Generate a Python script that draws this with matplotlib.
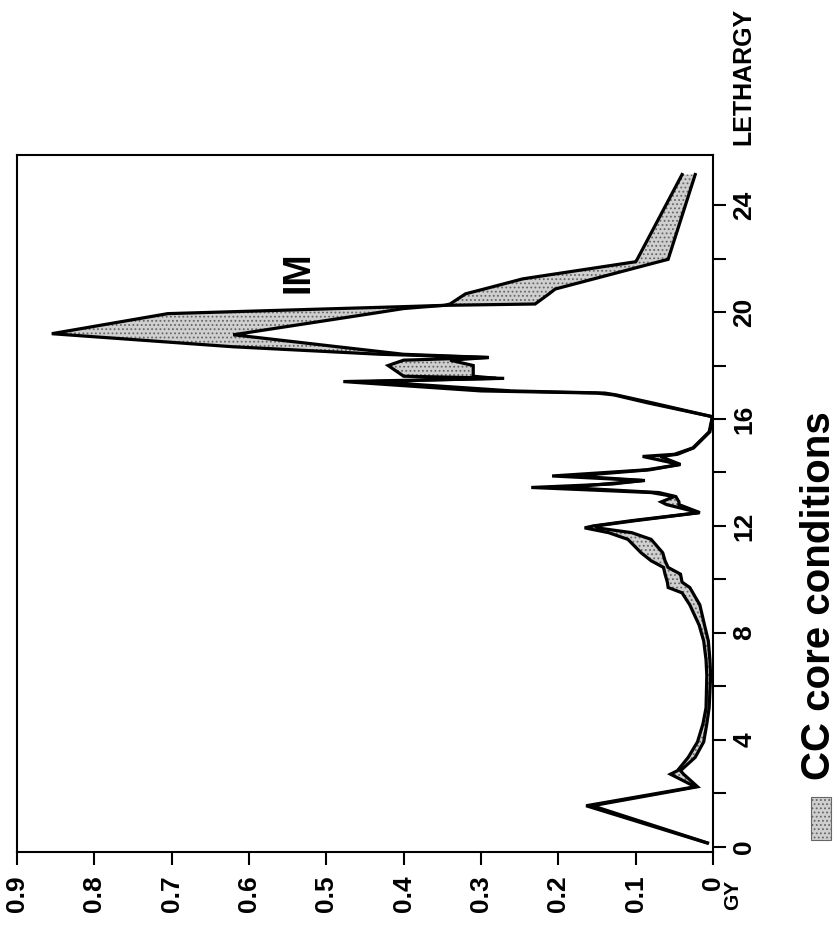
import matplotlib
matplotlib.use('Agg')
import matplotlib.pyplot as plt
from matplotlib.patches import Rectangle

plt.rcParams['font.family'] = ['Liberation Sans', 'DejaVu Sans']
plt.rcParams['font.weight'] = 'bold'
plt.rcParams['hatch.color'] = '#666666'
plt.rcParams['hatch.linewidth'] = 0.8

# lethargy grid and the two flux curves
lethargy = [0.15, 1.54, 2.25, 2.72, 2.85, 3.35, 3.93, 4.6, 5.2, 6.4, 7.0, 7.7, 8.3,
            9.05, 9.5, 9.7, 9.9, 10.2, 10.45, 10.7, 11.0, 11.5, 11.75, 11.93, 12.0,
            12.2, 12.5, 12.8, 12.9, 13.1, 13.25, 13.44, 13.57, 13.7, 13.87, 14.1,
            14.3, 14.6, 14.68, 14.92, 15.52, 16.05, 16.1, 16.6, 16.9, 16.97, 17.05,
            17.4, 17.52, 17.6, 18.0, 18.2, 18.3, 18.42, 18.7, 19.15, 19.19, 19.94,
            20.13, 20.2, 20.25, 20.3, 20.68, 20.86, 21.24, 21.88, 21.97, 25.14]
flux_a = [0.008, 0.164, 0.023, 0.055, 0.046, 0.032, 0.020, 0.013, 0.009, 0.008, 0.009,
          0.012, 0.018, 0.030, 0.040, 0.058, 0.059, 0.062, 0.064, 0.080, 0.093, 0.110,
          0.135, 0.166, 0.155, 0.105, 0.018, 0.060, 0.067, 0.050, 0.080, 0.235, 0.130,
          0.091, 0.208, 0.086, 0.043, 0.091, 0.050, 0.026, 0.005, 0.001, 0.003, 0.084,
          0.128, 0.150, 0.300, 0.478, 0.270, 0.400, 0.420, 0.400, 0.290, 0.430, 0.620,
          0.836, 0.855, 0.705, 0.484, 0.402, 0.347, 0.340, 0.320, 0.296, 0.246, 0.100,
          0.098, 0.040]
flux_b = [0.007, 0.156, 0.020, 0.038, 0.042, 0.023, 0.012, 0.008, 0.005, 0.003, 0.004,
          0.006, 0.011, 0.017, 0.026, 0.030, 0.040, 0.042, 0.058, 0.062, 0.065, 0.080,
          0.105, 0.150, 0.152, 0.100, 0.017, 0.044, 0.044, 0.048, 0.070, 0.190, 0.140,
          0.088, 0.180, 0.082, 0.042, 0.068, 0.046, 0.025, 0.004, 0.001, 0.003, 0.078,
          0.125, 0.140, 0.260, 0.440, 0.280, 0.310, 0.310, 0.340, 0.290, 0.400, 0.485,
          0.620, 0.611, 0.442, 0.400, 0.370, 0.347, 0.230, 0.212, 0.204, 0.154, 0.070,
          0.058, 0.023]

value_ticks = [0, 0.1, 0.2, 0.3, 0.4, 0.5, 0.6, 0.7, 0.8, 0.9]
value_labels = ['0', '0.1', '0.2', '0.3', '0.4', '0.5', '0.6', '0.7', '0.8', '0.9']
leth_ticks = [0, 4, 8, 12, 16, 20, 24]
leth_labels = ['0', '4', '8', '12', '16', '20', '24']
leth_minor = [2, 6, 10, 14, 18, 22]

fig = plt.figure(figsize=(8.4, 9.25), dpi=100)
ax = fig.add_axes([0.0202, 0.0789, 0.8286, 0.7535])

# the chart is printed sideways: value runs right-to-left, lethargy upward
ax.fill_betweenx(lethargy, flux_a, flux_b, facecolor='#cfcfcf', hatch='....',
                 edgecolor='#666666', linewidth=0)
ax.plot(flux_a, lethargy, color='black', lw=2.3, solid_joinstyle='miter')
ax.plot(flux_b, lethargy, color='black', lw=2.3, solid_joinstyle='miter')

ax.set_xlim(0.9, 0)
ax.set_ylim(-0.19, 25.87)

ax.yaxis.tick_right()
ax.set_xticks(value_ticks)
ax.set_xticklabels(value_labels, rotation=90, fontsize=19, fontweight='bold')
ax.set_yticks(leth_ticks)
ax.set_yticks(leth_minor, minor=True)
ax.set_yticklabels(leth_labels, rotation=90, va='center', fontsize=19, fontweight='bold')
ax.tick_params(axis='x', direction='out', length=9, width=1.5, pad=8)
ax.tick_params(axis='y', which='both', direction='out', length=9, width=1.5, pad=5)
for s in ax.spines.values():
    s.set_linewidth(1.5)

fig.text(0.367, 0.6832, 'IM', rotation=90, rotation_mode='anchor',
         ha='left', va='baseline', fontsize=27, fontweight='bold')
fig.text(0.8929, 0.8432, 'LETHARGY', rotation=90, rotation_mode='anchor',
         ha='left', va='baseline', fontsize=18, fontweight='bold')
fig.text(0.8786, 0.0162, 'GY', rotation=90, rotation_mode='anchor',
         ha='left', va='baseline', fontsize=15, fontweight='bold')
fig.text(0.9875, 0.1568, 'CC core conditions', rotation=90, rotation_mode='anchor',
         ha='left', va='baseline', fontsize=29, fontweight='bold')
fig.patches.append(Rectangle((0.9655, 0.0919), 0.0238, 0.0465, transform=fig.transFigure,
                             facecolor='#cfcfcf', hatch='....', edgecolor='#666666',
                             linewidth=0.8))

fig.savefig('out.png', dpi=100)
